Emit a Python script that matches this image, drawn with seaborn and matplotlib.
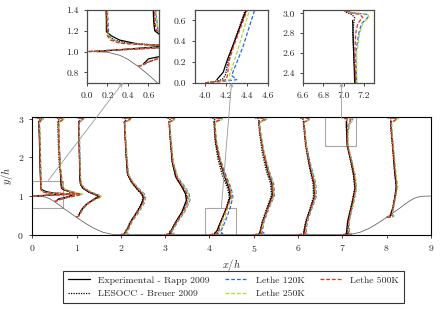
# Periodic hill: profiles at ten stations, main view plus three zoomed insets
import pandas as pd
import matplotlib
matplotlib.use("Agg")
import matplotlib.pyplot as plt
import seaborn as sns
from matplotlib.patches import Rectangle, ConnectionPatch

# ---- data ----
stations = [0.05, 0.5, 1, 2, 3, 4, 5, 6, 7, 8]

hill_x = [0.0, 0.2, 0.32, 0.4, 0.5, 0.6, 0.71, 0.8, 0.9, 1.0, 1.07, 1.2, 1.4, 1.6, 1.8, 1.93]
hill_y = [1.0, 0.994, 0.964, 0.925, 0.857, 0.776, 0.679, 0.607, 0.527, 0.448, 0.393, 0.295, 0.16, 0.062, 0.01, 0.0]

# experimental points (Rapp 2009)
y_exp = [
    [1.0, 1.02, 1.047, 1.055, 1.06, 1.07, 1.11, 1.15, 1.19, 1.3, 1.6, 2.0, 2.5, 2.85, 2.93],
    [0.88, 0.93, 0.95, 0.99, 1.03, 1.06, 1.1, 1.14, 1.17, 1.2, 1.3, 1.6, 2.0, 2.5, 2.93],
    [0.5, 0.6, 0.7, 0.8, 0.9, 0.98, 1.03, 1.1, 1.2, 1.3, 1.45, 1.8, 2.3, 2.7, 2.93],
    [0.02, 0.15, 0.33, 0.59, 0.8, 0.95, 1.05, 1.14, 1.35, 1.56, 2.1, 2.7, 2.93],
    [0.02, 0.15, 0.33, 0.59, 0.89, 1.05, 1.23, 1.49, 1.88, 2.48, 2.93],
    [0.03, 0.1, 0.22, 0.35, 0.7, 0.98, 1.2, 1.54, 1.97, 2.4, 2.93],
    [0.02, 0.1, 0.33, 0.67, 1.02, 1.32, 1.67, 2.14, 2.66, 2.93],
    [0.02, 0.1, 0.33, 0.67, 0.98, 1.32, 1.79, 2.3, 2.93],
    [0.02, 0.1, 0.33, 0.85, 1.2, 1.54, 1.88, 2.3, 2.6, 2.93],
    [0.47, 0.55, 0.72, 1.0, 1.24, 1.65, 2.17, 2.68, 2.93],
]
uu_exp = [
    [0.05, 0.3, 0.65, 0.8, 0.7, 0.46, 0.27, 0.19, 0.14, 0.14, 0.13, 0.12, 0.11, 0.1, 0.1],
    [0.05, 0.1, 0.2, 0.32, 0.43, 0.47, 0.4, 0.28, 0.2, 0.16, 0.15, 0.14, 0.12, 0.1, 0.09],
    [0.05, 0.09, 0.15, 0.24, 0.37, 0.5, 0.44, 0.28, 0.14, 0.09, 0.07, 0.07, 0.06, 0.05, 0.05],
    [0.08, 0.15, 0.22, 0.37, 0.47, 0.51, 0.48, 0.4, 0.25, 0.15, 0.12, 0.09, 0.08],
    [0.09, 0.16, 0.24, 0.38, 0.48, 0.46, 0.38, 0.24, 0.16, 0.12, 0.09],
    [0.11, 0.17, 0.21, 0.26, 0.39, 0.47, 0.44, 0.33, 0.22, 0.14, 0.11],
    [0.12, 0.15, 0.2, 0.31, 0.42, 0.41, 0.31, 0.22, 0.14, 0.12],
    [0.13, 0.14, 0.18, 0.28, 0.37, 0.36, 0.26, 0.18, 0.13],
    [0.09, 0.1, 0.12, 0.23, 0.29, 0.26, 0.2, 0.11, 0.1, 0.09],
    [0.08, 0.1, 0.15, 0.19, 0.22, 0.18, 0.15, 0.11, 0.1],
]

# simulations (LESOCC and Lethe), wall to wall
y_sim = [
    [1.0, 1.015, 1.03, 1.045, 1.055, 1.065, 1.08, 1.11, 1.15, 1.2, 1.4, 1.8, 2.3, 2.7, 2.9, 2.97, 3.0, 3.036],
    [0.857, 0.87, 0.9, 0.935, 0.97, 1.0, 1.04, 1.08, 1.13, 1.17, 1.22, 1.4, 1.8, 2.3, 2.7, 2.9, 2.97, 3.0, 3.036],
    [0.448, 0.5, 0.6, 0.7, 0.8, 0.9, 0.98, 1.03, 1.1, 1.2, 1.3, 1.45, 1.8, 2.3, 2.7, 2.9, 2.97, 3.0, 3.036],
    [0.0, 0.03, 0.08, 0.15, 0.33, 0.59, 0.8, 0.95, 1.05, 1.14, 1.35, 1.56, 2.1, 2.7, 2.9, 2.97, 3.0, 3.036],
    [0.0, 0.03, 0.08, 0.15, 0.33, 0.59, 0.89, 1.05, 1.23, 1.49, 1.88, 2.48, 2.9, 2.97, 3.0, 3.036],
    [0.0, 0.01, 0.03, 0.07, 0.22, 0.35, 0.7, 0.98, 1.2, 1.54, 1.97, 2.4, 2.9, 2.97, 3.0, 3.036],
    [0.0, 0.01, 0.03, 0.07, 0.33, 0.67, 1.02, 1.32, 1.67, 2.14, 2.66, 2.9, 2.97, 3.0, 3.036],
    [0.0, 0.01, 0.03, 0.07, 0.33, 0.67, 0.98, 1.32, 1.79, 2.3, 2.9, 2.97, 3.0, 3.036],
    [0.0, 0.01, 0.03, 0.07, 0.33, 0.85, 1.2, 1.54, 1.88, 2.3, 2.6, 2.8, 2.9, 2.96, 2.99, 3.01, 3.036],
    [0.448, 0.46, 0.48, 0.52, 0.72, 1.0, 1.24, 1.65, 2.17, 2.68, 2.9, 2.97, 3.0, 3.036],
]
uu_les = [
    [-0.03, 0.25, 0.55, 0.8, 0.85, 0.6, 0.35, 0.22, 0.16, 0.15, 0.14, 0.13, 0.12, 0.11, 0.1, 0.12, 0.1, 0.0],
    [0.0, 0.04, 0.1, 0.2, 0.3, 0.42, 0.5, 0.4, 0.27, 0.2, 0.16, 0.15, 0.11, 0.09, 0.08, 0.08, 0.1, 0.1, 0.0],
    [0.0, 0.05, 0.09, 0.15, 0.24, 0.37, 0.48, 0.43, 0.28, 0.15, 0.09, 0.08, 0.07, 0.06, 0.05, 0.05, 0.08, 0.08, 0.0],
    [0.0, 0.1, 0.09, 0.14, 0.21, 0.36, 0.46, 0.5, 0.47, 0.39, 0.24, 0.15, 0.11, 0.09, 0.08, 0.12, 0.1, 0.0],
    [0.0, 0.12, 0.1, 0.15, 0.24, 0.39, 0.49, 0.48, 0.39, 0.24, 0.16, 0.11, 0.09, 0.11, 0.1, 0.0],
    [0.0, 0.08, 0.16, 0.19, 0.22, 0.26, 0.38, 0.45, 0.41, 0.29, 0.19, 0.13, 0.1, 0.12, 0.1, 0.0],
    [0.0, 0.08, 0.15, 0.14, 0.19, 0.29, 0.4, 0.38, 0.28, 0.19, 0.13, 0.11, 0.12, 0.1, 0.0],
    [0.0, 0.08, 0.14, 0.13, 0.17, 0.27, 0.35, 0.34, 0.25, 0.17, 0.12, 0.12, 0.1, 0.0],
    [0.0, 0.07, 0.12, 0.11, 0.12, 0.22, 0.28, 0.25, 0.19, 0.12, 0.1, 0.09, 0.1, 0.11, 0.08, 0.03, 0.0],
    [0.0, 0.08, 0.1, 0.1, 0.14, 0.19, 0.22, 0.18, 0.14, 0.1, 0.09, 0.1, 0.09, 0.0],
]
uu_120k = [
    [-0.03, 0.2, 0.48, 0.82, 0.93, 0.55, 0.3, 0.2, 0.16, 0.16, 0.15, 0.14, 0.13, 0.12, 0.11, 0.18, 0.2, 0.0],
    [0.0, 0.05, 0.1, 0.19, 0.31, 0.46, 0.62, 0.5, 0.33, 0.24, 0.19, 0.17, 0.13, 0.11, 0.1, 0.1, 0.19, 0.21, 0.0],
    [0.0, 0.07, 0.11, 0.17, 0.26, 0.4, 0.56, 0.49, 0.33, 0.18, 0.11, 0.09, 0.08, 0.07, 0.06, 0.06, 0.13, 0.16, 0.0],
    [0.0, 0.16, 0.13, 0.18, 0.25, 0.41, 0.52, 0.56, 0.53, 0.45, 0.28, 0.17, 0.13, 0.1, 0.09, 0.2, 0.24, 0.0],
    [0.0, 0.2, 0.15, 0.19, 0.28, 0.44, 0.56, 0.54, 0.45, 0.28, 0.18, 0.13, 0.1, 0.2, 0.23, 0.0],
    [0.0, 0.14, 0.3, 0.25, 0.31, 0.36, 0.47, 0.53, 0.49, 0.37, 0.24, 0.16, 0.12, 0.26, 0.28, 0.0],
    [0.0, 0.13, 0.25, 0.19, 0.23, 0.34, 0.47, 0.45, 0.34, 0.23, 0.15, 0.13, 0.26, 0.28, 0.0],
    [0.0, 0.13, 0.22, 0.18, 0.21, 0.31, 0.41, 0.4, 0.29, 0.19, 0.14, 0.25, 0.27, 0.0],
    [0.0, 0.11, 0.2, 0.16, 0.15, 0.26, 0.32, 0.29, 0.22, 0.13, 0.12, 0.15, 0.18, 0.24, 0.23, 0.08, 0.0],
    [0.0, 0.13, 0.16, 0.13, 0.16, 0.21, 0.24, 0.2, 0.16, 0.12, 0.11, 0.23, 0.25, 0.0],
]
uu_250k = [
    [-0.03, 0.22, 0.5, 0.85, 0.95, 0.55, 0.3, 0.2, 0.16, 0.15, 0.15, 0.14, 0.13, 0.12, 0.11, 0.18, 0.2, 0.0],
    [0.0, 0.05, 0.1, 0.19, 0.32, 0.47, 0.64, 0.5, 0.33, 0.24, 0.19, 0.17, 0.13, 0.11, 0.1, 0.1, 0.2, 0.22, 0.0],
    [0.0, 0.07, 0.11, 0.17, 0.27, 0.41, 0.58, 0.5, 0.33, 0.18, 0.11, 0.09, 0.08, 0.07, 0.06, 0.06, 0.14, 0.17, 0.0],
    [0.0, 0.15, 0.12, 0.17, 0.24, 0.4, 0.51, 0.55, 0.52, 0.44, 0.28, 0.17, 0.13, 0.1, 0.09, 0.22, 0.25, 0.0],
    [0.0, 0.18, 0.14, 0.18, 0.27, 0.43, 0.55, 0.53, 0.44, 0.28, 0.18, 0.13, 0.1, 0.2, 0.24, 0.0],
    [0.0, 0.12, 0.24, 0.23, 0.28, 0.32, 0.42, 0.51, 0.48, 0.36, 0.24, 0.16, 0.12, 0.28, 0.3, 0.0],
    [0.0, 0.12, 0.22, 0.17, 0.22, 0.33, 0.46, 0.44, 0.34, 0.23, 0.15, 0.13, 0.28, 0.3, 0.0],
    [0.0, 0.12, 0.2, 0.17, 0.2, 0.3, 0.4, 0.39, 0.28, 0.19, 0.14, 0.26, 0.28, 0.0],
    [0.0, 0.1, 0.18, 0.15, 0.15, 0.26, 0.32, 0.29, 0.22, 0.13, 0.13, 0.16, 0.19, 0.25, 0.24, 0.08, 0.0],
    [0.0, 0.12, 0.15, 0.12, 0.16, 0.21, 0.25, 0.21, 0.16, 0.12, 0.11, 0.25, 0.27, 0.0],
]
uu_500k = [
    [-0.03, 0.25, 0.55, 0.85, 0.9, 0.5, 0.27, 0.18, 0.15, 0.15, 0.14, 0.13, 0.12, 0.11, 0.1, 0.15, 0.17, 0.0],
    [0.0, 0.04, 0.1, 0.2, 0.32, 0.45, 0.6, 0.45, 0.3, 0.22, 0.17, 0.16, 0.12, 0.1, 0.09, 0.09, 0.18, 0.2, 0.0],
    [0.0, 0.06, 0.1, 0.16, 0.25, 0.38, 0.52, 0.45, 0.3, 0.16, 0.1, 0.08, 0.07, 0.06, 0.05, 0.05, 0.12, 0.15, 0.0],
    [0.0, 0.12, 0.1, 0.16, 0.23, 0.38, 0.49, 0.53, 0.5, 0.42, 0.26, 0.16, 0.12, 0.09, 0.08, 0.18, 0.22, 0.0],
    [0.0, 0.15, 0.12, 0.17, 0.26, 0.41, 0.52, 0.5, 0.41, 0.26, 0.17, 0.12, 0.09, 0.17, 0.2, 0.0],
    [0.0, 0.1, 0.2, 0.21, 0.23, 0.27, 0.4, 0.49, 0.46, 0.35, 0.23, 0.15, 0.11, 0.22, 0.25, 0.0],
    [0.0, 0.1, 0.18, 0.15, 0.21, 0.32, 0.44, 0.42, 0.32, 0.22, 0.14, 0.12, 0.22, 0.25, 0.0],
    [0.0, 0.1, 0.17, 0.15, 0.19, 0.29, 0.38, 0.37, 0.27, 0.18, 0.13, 0.22, 0.24, 0.0],
    [0.0, 0.08, 0.15, 0.13, 0.14, 0.24, 0.3, 0.27, 0.21, 0.12, 0.11, 0.12, 0.14, 0.19, 0.16, 0.05, 0.0],
    [0.0, 0.1, 0.13, 0.11, 0.15, 0.2, 0.23, 0.19, 0.15, 0.11, 0.1, 0.2, 0.22, 0.0],
]

series = ["Experimental - Rapp 2009", "LESOCC - Breuer 2009", "Lethe 120K", "Lethe 250K", "Lethe 500K"]
palette = dict(zip(series, ["black", "black", "#2b64f4", "#9ee332", "#ee2a1e"]))
dash_map = dict(zip(series, ["", (1, 1), (3, 1.6), (3, 1.6), (3, 1.6)]))

# ---- long table: x = station + profile value ----
rows = []
for i, s in enumerate(stations):
    for y, v in zip(y_exp[i], uu_exp[i]):
        rows.append((series[0], i, s + v, y))
    for name, vals in zip(series[1:], [uu_les[i], uu_120k[i], uu_250k[i], uu_500k[i]]):
        for y, v in zip(y_sim[i], vals):
            rows.append((name, i, s + v, y))
df = pd.DataFrame(rows, columns=["series", "station", "x", "y"])

wall_x = hill_x + [9 - v for v in reversed(hill_x)]
wall_y = hill_y + list(reversed(hill_y))

# ---- style ----
sns.set_style("ticks")
plt.rcParams.update({
    "font.family": "serif",
    "font.serif": ["cmr10", "DejaVu Serif"],
    "mathtext.fontset": "cm",
    "axes.formatter.use_mathtext": True,
    "font.size": 7,
    "axes.linewidth": 0.8,
    "xtick.major.size": 2.5,
    "ytick.major.size": 2.5,
    "xtick.major.width": 0.6,
    "ytick.major.width": 0.6,
})

fig = plt.figure(figsize=(4.41, 3.10), dpi=100)
ax = fig.add_axes([0.0732, 0.2429, 0.9038, 0.379])
ins1 = fig.add_axes([0.197, 0.733, 0.163, 0.235])
ins2 = fig.add_axes([0.4417, 0.733, 0.1667, 0.235])
ins3 = fig.add_axes([0.687, 0.733, 0.161, 0.235])


def draw(a, legend=False):
    a.plot(wall_x, wall_y, color="0.3", lw=0.5)
    sns.lineplot(data=df, x="x", y="y", hue="series", style="series", units="station",
                 estimator=None, sort=False, hue_order=series, style_order=series,
                 palette=palette, dashes=dash_map, lw=0.9, ax=a, legend=legend)
    a.set_xlabel("")
    a.set_ylabel("")


draw(ax, legend=True)
ax.set_xlim(0, 9)
ax.set_ylim(0, 3.036)
ax.set_xticks(range(10))
ax.set_yticks([0, 1, 2, 3])
ax.set_xlabel("$x/h$", fontsize=7.5, labelpad=2)
ax.set_ylabel("$y/h$", fontsize=7.5, labelpad=2)
for sp in ax.spines.values():
    sp.set_color("black")

limits = [((0, 0.7), (0.7, 1.4), [0.0, 0.2, 0.4, 0.6], [0.8, 1.0, 1.2, 1.4]),
          ((3.9, 4.6), (0.0, 0.7), [4.0, 4.2, 4.4, 4.6], [0.0, 0.2, 0.4, 0.6]),
          ((6.6, 7.3), (2.3, 3.036), [6.6, 6.8, 7.0, 7.2], [2.4, 2.6, 2.8, 3.0])]
for a, (xl, yl, xt, yt) in zip([ins1, ins2, ins3], limits):
    draw(a)
    a.set_xlim(*xl)
    a.set_ylim(*yl)
    a.set_xticks(xt)
    a.set_yticks(yt)
    a.set_xticklabels([f"{v:.1f}" for v in xt])
    a.set_yticklabels([f"{v:.1f}" for v in yt])
    for sp in a.spines.values():
        sp.set_color("0.3")
        sp.set_linewidth(0.9)
    # zoom box on the main view
    ax.add_patch(Rectangle((xl[0], yl[0]), xl[1] - xl[0], yl[1] - yl[0],
                           fill=False, ec="0.65", lw=0.8, zorder=1))

# pointers from the boxes up to the insets
for (xa, ya), (xb, yb), a in [((0.36, 1.4), (0.35, 0.7), ins1),
                              ((4.27, 0.7), (4.25, 0.0), ins2),
                              ((6.98, 3.0), (6.98, 2.3), ins3)]:
    con = ConnectionPatch(xyA=(xa, ya), coordsA="data", axesA=ax,
                          xyB=(xb, yb), coordsB="data", axesB=a,
                          arrowstyle="->", color="0.6", lw=0.6, mutation_scale=6)
    fig.add_artist(con)

sns.move_legend(ax, "center", bbox_to_anchor=(0.505, -0.445), ncol=3, title=None,
                frameon=True, fancybox=False, edgecolor="black", fontsize=7,
                handlelength=2.2, columnspacing=1.6, borderpad=0.5, labelspacing=0.5,
                handletextpad=0.9)
ax.get_legend().get_frame().set_linewidth(0.8)

fig.savefig("out.png", dpi=100)
